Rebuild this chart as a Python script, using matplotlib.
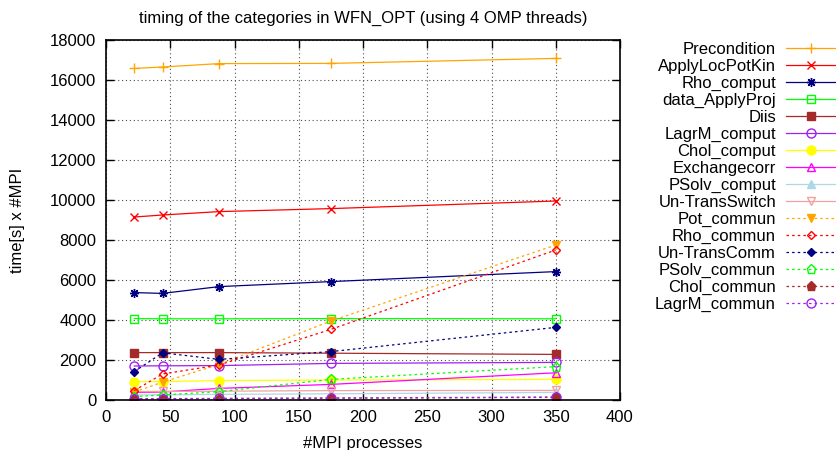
import matplotlib
matplotlib.use("Agg")
import matplotlib.pyplot as plt

plt.rcParams['font.family'] = ['Liberation Sans', 'DejaVu Sans']

mpi = [22, 44, 88, 175, 350]

names = ["Precondition", "ApplyLocPotKin", "Rho_comput", "data_ApplyProj", "Diis",
         "LagrM_comput", "Chol_comput", "Exchangecorr", "PSolv_comput", "Un-TransSwitch",
         "Pot_commun", "Rho_commun", "Un-TransComm", "PSolv_commun", "Chol_commun",
         "LagrM_commun"]

precondition   = [16580, 16650, 16820, 16830, 17080]
applylocpotkin = [9150, 9250, 9420, 9570, 9950]
rho_comput     = [5370, 5330, 5670, 5920, 6420]
data_applyproj = [4070, 4060, 4060, 4070, 4060]
diis           = [2370, 2370, 2370, 2340, 2280]
lagrm_comput   = [1700, 1710, 1720, 1830, 1880]
chol_comput    = [920, 920, 970, 1000, 1030]
exchangecorr   = [380, 400, 580, 780, 1360]
psolv_comput   = [250, 260, 280, 310, 380]
untransswitch  = [420, 430, 440, 470, 480]
pot_commun     = [400, 890, 1780, 3950, 7750]
rho_commun     = [470, 1300, 1750, 3530, 7500]
untranscomm    = [1420, 2360, 2030, 2420, 3630]
psolv_commun   = [170, 250, 420, 1030, 1670]
chol_commun    = [50, 60, 70, 90, 130]
lagrm_commun   = [60, 70, 80, 100, 150]

series = [precondition, applylocpotkin, rho_comput, data_applyproj, diis,
          lagrm_comput, chol_comput, exchangecorr, psolv_comput, untransswitch,
          pot_commun, rho_commun, untranscomm, psolv_commun, chol_commun, lagrm_commun]

colors = ["#FFA500", "#FF0000", "#000080", "#00FF00", "#A52A2A",
          "#A020F0", "#FFFF00", "#FF00FF", "#ADD8E6", "#F4A0A0",
          "#FFA500", "#FF0000", "#000080", "#00FF00", "#A52A2A", "#A020F0"]
markers = ["+", "x", (8, 2, 0), "s", "s", "o", "o", "^", "^", "v",
           "v", "D", "D", "p", "p", "o"]
filled = [True, True, True, False, True, False, True, False, True, False,
          True, False, True, False, True, False]
sizes = [7, 6, 6.5, 5.5, 5.5, 6.5, 6.5, 6, 6, 6, 6, 4.5, 4.5, 6.5, 6.5, 6.5]
dotted = [False] * 10 + [True] * 6

fig = plt.figure(figsize=(8.36, 4.5), dpi=100)
ax = fig.add_axes([106/836, 1 - 400/450, (620-106)/836, (400-40)/450])

for name, ys, c, m, f, s, d in zip(names, series, colors, markers, filled, sizes, dotted):
    ls = (0, (2, 2.5)) if d else '-'
    kw = dict(color=c, lw=0.9, ls=ls, marker=m, ms=s, label=name,
              markeredgewidth=1.0)
    kw['markerfacecolor'] = c if f else 'none'
    kw['markeredgecolor'] = c
    ax.plot(mpi, ys, **kw)

ax.set_xlim(0, 400)
ax.set_ylim(0, 18000)
ax.set_xticks(range(0, 401, 50))
ax.set_yticks(range(0, 18001, 2000))
ax.tick_params(direction='in', top=True, right=True, length=6, width=1,
               labelsize=12, pad=7, colors='black')
ax.grid(True, color='0.3', ls=(0, (1, 2.5)), lw=0.8)
ax.set_axisbelow(True)
for sp in ax.spines.values():
    sp.set_linewidth(1.2)

ax.set_xlabel("#MPI processes", fontsize=12, labelpad=8)
ax.set_ylabel("time[s] x #MPI", fontsize=12, labelpad=18)
ax.set_title("timing of the categories in WFN_OPT (using 4 OMP threads)", fontsize=12, pad=12)

leg = ax.legend(loc='upper right', bbox_to_anchor=(1.0, 1 - 42/450),
                bbox_transform=fig.transFigure, frameon=False, markerfirst=False,
                fontsize=12, handlelength=3.0, handletextpad=0.6, labelspacing=0.115,
                borderpad=0, borderaxespad=0, numpoints=1)

fig.savefig("out.png", dpi=100)
